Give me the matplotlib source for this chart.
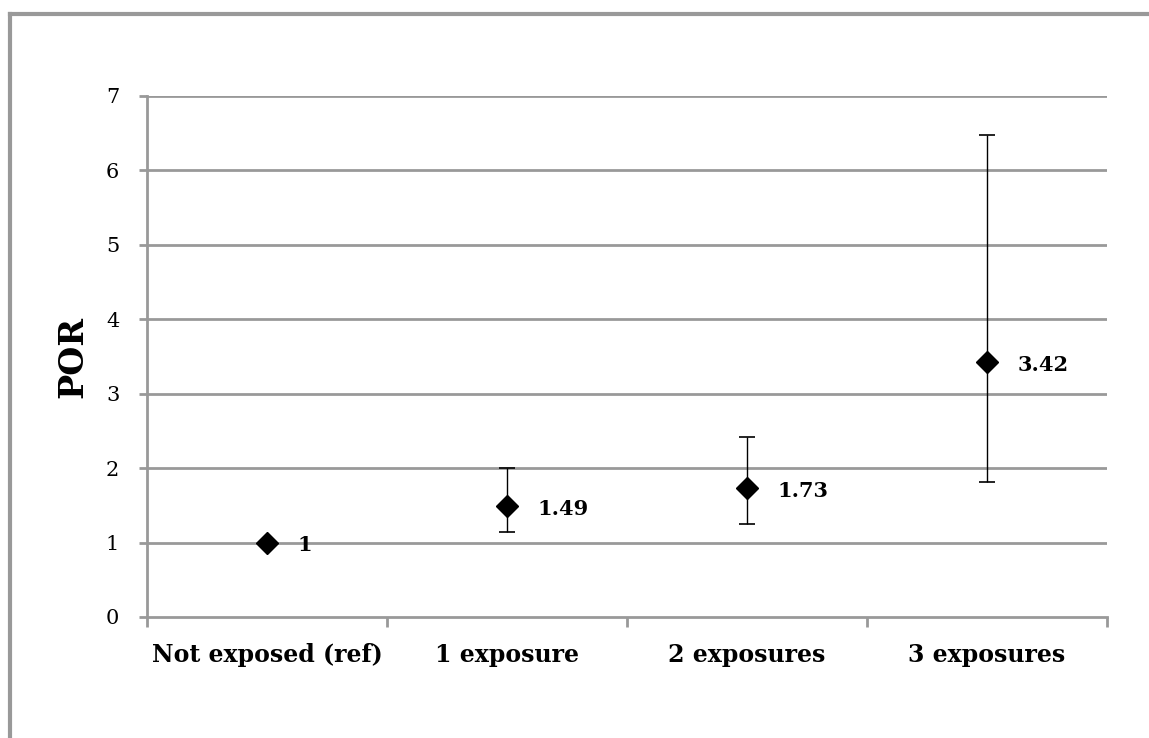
import matplotlib
matplotlib.use("Agg")
import matplotlib.pyplot as plt
from matplotlib.lines import Line2D
import numpy as np

categories = ["Not exposed (ref)", "1 exposure", "2 exposures", "3 exposures"]
por = [1.0, 1.49, 1.73, 3.42]
ci_low = [1.0, 1.14, 1.25, 1.81]
ci_high = [1.0, 2.00, 2.42, 6.47]
labels = ["1", "1.49", "1.73", "3.42"]

grey = "#999999"
serif = ["DejaVu Serif"]

fig = plt.figure(figsize=(11.49, 7.38), dpi=100)
ax = fig.add_axes([0.128, 0.164, 0.8354, 0.706])

x = np.arange(len(categories)) + 0.5
ax.set_xlim(0, len(categories))
ax.set_ylim(0, 7)

for v in range(1, 8):
    ax.axhline(v, color=grey, lw=2, zorder=1)

yerr = [np.array(por) - np.array(ci_low), np.array(ci_high) - np.array(por)]
ax.errorbar(x[1:], por[1:], yerr=[yerr[0][1:], yerr[1][1:]], fmt="none",
            ecolor="black", elinewidth=1.0, capsize=6, capthick=1.2, zorder=2)
ax.plot(x, por, linestyle="none", marker="D", markersize=11,
        color="black", zorder=3)

for xi, yi, t in zip(x, por, labels):
    ax.annotate(t, (xi, yi), xytext=(22, -2), textcoords="offset points",
                ha="left", va="center", fontsize=15, fontweight="bold",
                family=serif)

for s in ["top", "right"]:
    ax.spines[s].set_visible(False)
for s in ["left", "bottom"]:
    ax.spines[s].set_color(grey)
    ax.spines[s].set_linewidth(2)

ax.set_yticks(range(0, 8))
ax.set_yticklabels([str(v) for v in range(0, 8)], family=serif, fontsize=15)
ax.tick_params(axis="y", length=6, width=2, color=grey, pad=14)

ax.set_xticks(range(0, len(categories) + 1))
ax.set_xticklabels([])
ax.set_xticks(x, minor=True)
ax.set_xticklabels(categories, minor=True, family=serif, fontsize=17,
                   fontweight="bold")
ax.tick_params(axis="x", which="major", length=7, width=2, color=grey)
ax.tick_params(axis="x", which="minor", length=0, pad=19)

ax.set_ylabel("POR", family=serif, fontsize=24, fontweight="bold",
              labelpad=12)

# chart border (only top and left edges visible in the frame)
fig.add_artist(Line2D([0.0085, 0.0085], [0, 0.9815], color=grey, lw=3,
                      transform=fig.transFigure))
fig.add_artist(Line2D([0.0085, 1.0], [0.9815, 0.9815], color=grey, lw=3,
                      transform=fig.transFigure))

fig.savefig("out.png", dpi=100)
